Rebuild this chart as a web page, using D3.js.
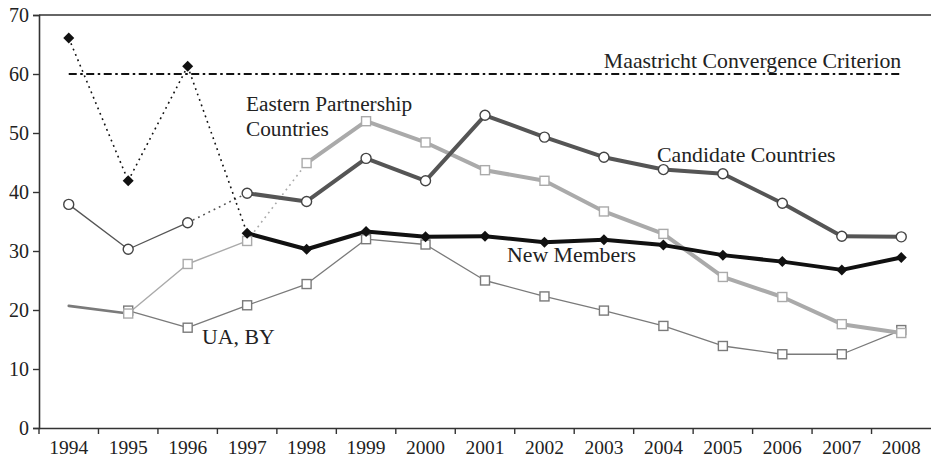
<!DOCTYPE html>
<html><head><meta charset="utf-8">
<script src="https://cdn.jsdelivr.net/npm/d3@7/dist/d3.min.js"></script>
<style>body{margin:0;background:#fff}svg{display:block}</style>
</head><body>
<svg id="c" width="931" height="459"></svg>
<script>
const years = ["1994","1995","1996","1997","1998","1999","2000","2001","2002","2003","2004","2005","2006","2007","2008"];
const yTicks = [0,10,20,30,40,50,60,70];
const newMembers = [66.1,41.9,61.3,33.0,30.3,33.3,32.4,32.5,31.5,31.9,31.0,29.3,28.2,26.8,28.9];
const candidate  = [37.9,30.3,34.8,39.8,38.4,45.7,41.9,53.0,49.3,45.9,43.8,43.1,38.1,32.5,32.4];
const easternP   = [20.7,19.4,27.8,31.7,44.9,52.0,48.4,43.7,41.9,36.7,32.9,25.6,22.2,17.6,16.1];
const uaBy       = [null,19.9,17.0,20.8,24.4,32.0,31.1,25.0,22.3,19.9,17.3,13.9,12.5,12.5,16.6];
const criterion = 60;
const labels = {criterion:"Maastricht Convergence Criterion", ep1:"Eastern Partnership", ep2:"Countries", cand:"Candidate Countries", nm:"New Members", ua:"UA, BY"};

// segment styles (interval i -> i+1)
const ST = {
  nmDot:{stroke:"#111",w:1.6,dash:"1.8,4"}, nmThick:{stroke:"#111",w:4},
  cThin:{stroke:"#555",w:1.3}, cDot:{stroke:"#555",w:1.6,dash:"1.8,4"}, cThick:{stroke:"#555",w:4},
  eMid:{stroke:"#7a7a7a",w:2.6}, eThin:{stroke:"#aaa",w:1.4}, eDot:{stroke:"#aaa",w:1.6,dash:"1.8,4"}, eThick:{stroke:"#aaa",w:4},
  uThin:{stroke:"#7a7a7a",w:1.3}
};
function segs(first, rest, n){ const a=[]; for(let i=0;i<n;i++) a.push(i<first.length?first[i]:rest); return a; }
const series = [
  {vals:uaBy, seg:segs([],ST.uThin,14), marker:"square", mStroke:"#7a7a7a", mFrom:1},
  {vals:easternP, seg:segs([ST.eMid,ST.eThin,ST.eThin,ST.eDot],ST.eThick,14), marker:"square", mStroke:"#aaa", mFrom:1},
  {vals:candidate, seg:segs([ST.cThin,ST.cThin,ST.cDot],ST.cThick,14), marker:"circle", mStroke:"#444", mFrom:0},
  {vals:newMembers, seg:segs([ST.nmDot,ST.nmDot,ST.nmDot],ST.nmThick,14), marker:"diamond", mStroke:"#111", mFrom:0}
];

const svg = d3.select("#c");
const L=39, R=931, T=15, B=428;
const x = d3.scaleBand().domain(years).range([L,R]).padding(0);
const y = d3.scaleLinear().domain([0,70]).range([B,T]);
const cx = d => x(d)+x.bandwidth()/2;
const font = "'Liberation Serif','DejaVu Serif',serif";

// frame: top line
svg.append("line").attr("x1",L).attr("x2",R).attr("y1",T).attr("y2",T).attr("stroke","#333").attr("stroke-width",1.4);

// y axis
const ya = svg.append("g").attr("transform",`translate(${L},0)`).call(d3.axisLeft(y).tickValues(yTicks).tickSize(6).tickPadding(4));
ya.select(".domain").attr("stroke","#333").attr("stroke-width",1.6);
ya.selectAll(".tick line").attr("stroke","#333").attr("stroke-width",1.4);
ya.selectAll(".tick text").attr("font-family",font).attr("font-size",20).attr("fill","#222");

// x axis with ticks at band boundaries
const xa = svg.append("g").attr("transform",`translate(0,${B})`).call(d3.axisBottom(x).tickSize(0).tickPadding(12));
xa.select(".domain").attr("stroke","#333").attr("stroke-width",1.6);
xa.selectAll(".tick text").attr("font-family",font).attr("font-size",19.5).attr("fill","#222");
xa.selectAll(".bnd").data(years).enter().append("line").attr("class","bnd")
  .attr("x1",d=>x(d)).attr("x2",d=>x(d)).attr("y1",0).attr("y2",6).attr("stroke","#333").attr("stroke-width",1.4);

// criterion line
svg.append("line").attr("x1",cx(years[0])).attr("x2",cx(years[years.length-1]))
  .attr("y1",y(criterion)).attr("y2",y(criterion)).attr("stroke","#111").attr("stroke-width",2.2)
  .attr("stroke-dasharray","8,3.5,2.5,3.5");

// series lines
series.forEach(s=>{
  const g = svg.append("g");
  for(let i=0;i<years.length-1;i++){
    const a=s.vals[i], b=s.vals[i+1];
    if(a==null||b==null) continue;
    const st=s.seg[i];
    g.append("line").attr("x1",cx(years[i])).attr("y1",y(a)).attr("x2",cx(years[i+1])).attr("y2",y(b))
      .attr("stroke",st.stroke).attr("stroke-width",st.w).attr("stroke-dasharray",st.dash||null)
      .attr("stroke-linecap",st.dash?"butt":"round");
  }
});
// markers
series.forEach(s=>{
  const g = svg.append("g");
  s.vals.forEach((v,i)=>{
    if(v==null||i<s.mFrom) return;
    const px=cx(years[i]), py=y(v);
    if(s.marker==="square"){
      g.append("rect").attr("x",px-4.5).attr("y",py-4.5).attr("width",9).attr("height",9)
        .attr("fill","#fff").attr("stroke",s.mStroke).attr("stroke-width",1.4);
    } else if(s.marker==="circle"){
      g.append("circle").attr("cx",px).attr("cy",py).attr("r",5).attr("fill","#fff").attr("stroke",s.mStroke).attr("stroke-width",1.4);
    } else {
      g.append("path").attr("d","M0,-5.5L5.5,0L0,5.5L-5.5,0Z").attr("transform",`translate(${px},${py})`).attr("fill","#111");
    }
  });
});

// labels
function lab(t,xp,yp,anchor,fs){ svg.append("text").attr("x",xp).attr("y",yp).attr("text-anchor",anchor||"start")
  .attr("font-family",font).attr("font-size",fs||21.8).attr("fill","#222").text(t); }
lab(labels.criterion, cx("2008"), y(criterion)-6, "end");
lab(labels.ep1, 246, 111, "start", 21.3);
lab(labels.ep2, 246, 136, "start", 21.3);
lab(labels.cand, 657, 162);
lab(labels.nm, 507, 262);
lab(labels.ua, 202, 344);
</script>
</body></html>
